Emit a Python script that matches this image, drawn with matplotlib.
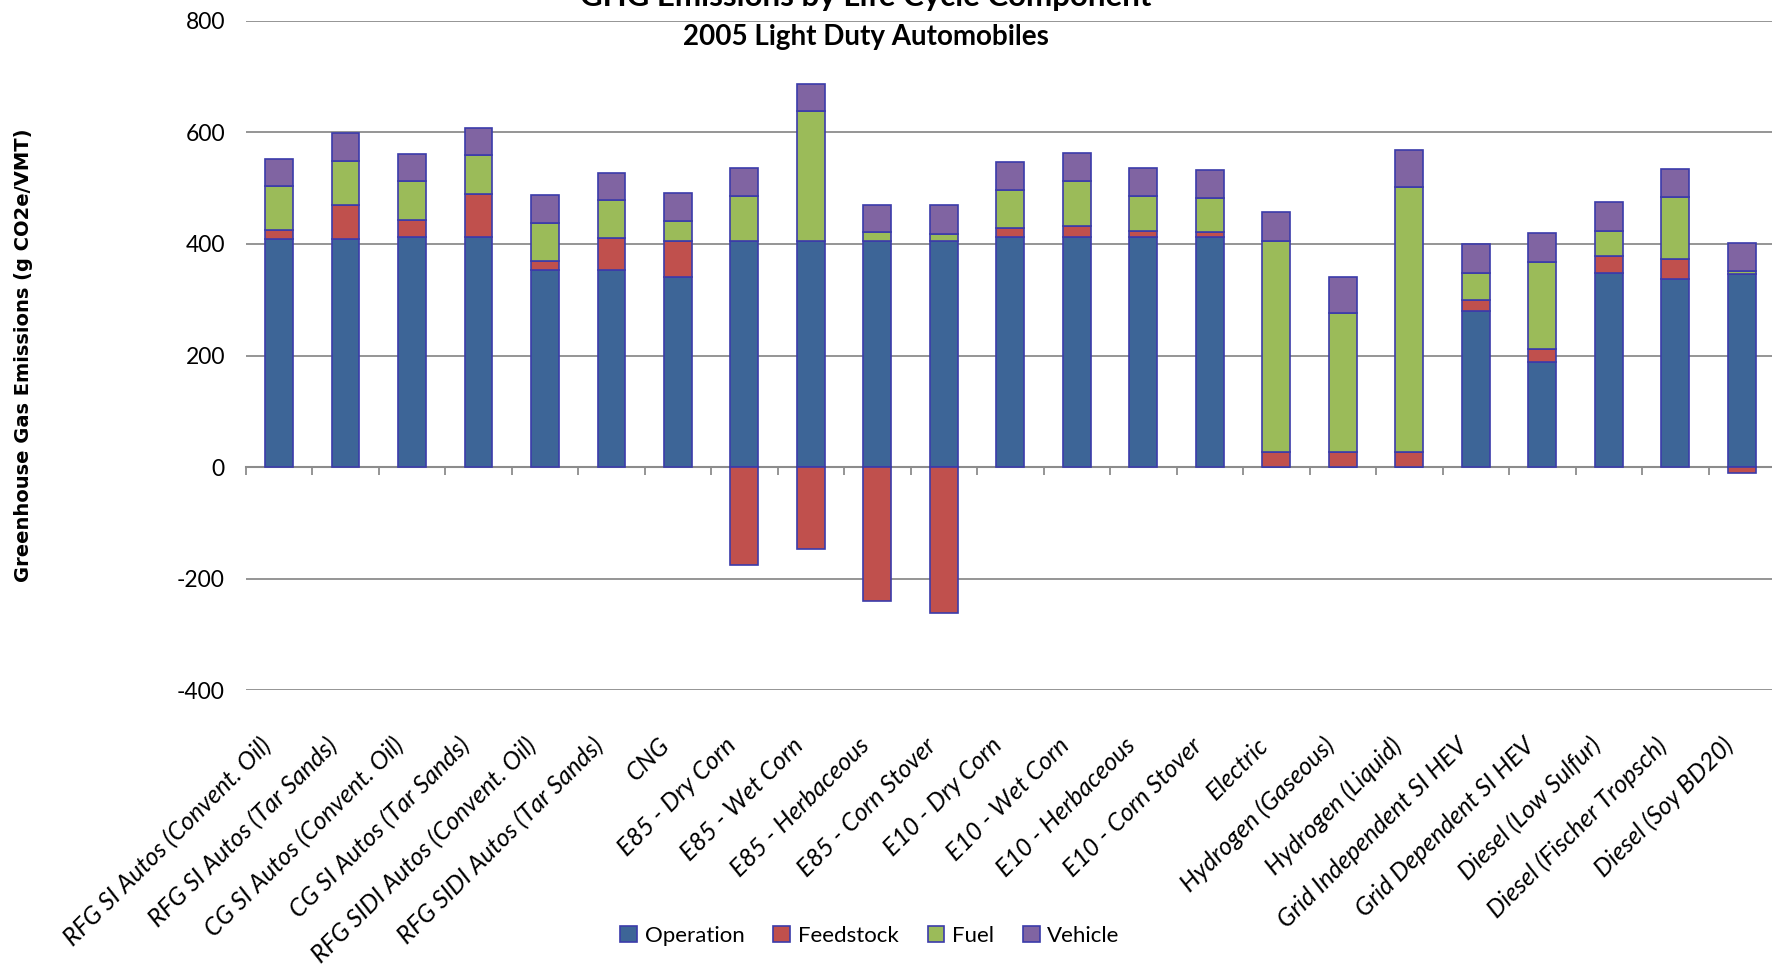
import numpy as np
import matplotlib.pyplot as plt
from matplotlib.transforms import ScaledTranslation

# GHG emissions per pathway, g CO2e / VMT
categories = [
    'RFG SI Autos (Convent. Oil)', 'RFG SI Autos (Tar Sands)',
    'CG SI Autos (Convent. Oil)', 'CG SI Autos (Tar Sands)',
    'RFG SIDI Autos (Convent. Oil)', 'RFG SIDI Autos (Tar Sands)',
    'CNG', 'E85 - Dry Corn', 'E85 - Wet Corn', 'E85 - Herbaceous',
    'E85 - Corn Stover', 'E10 - Dry Corn', 'E10 - Wet Corn',
    'E10 - Herbaceous', 'E10 - Corn Stover', 'Electric',
    'Hydrogen (Gaseous)', 'Hydrogen (Liquid)', 'Grid Independent SI HEV',
    'Grid Dependent SI HEV', 'Diesel (Low Sulfur)', 'Diesel (Fischer Tropsch)',
    'Diesel (Soy BD20)',
]
operation = [408, 408, 413, 413, 354, 354, 340, 405, 405, 405, 405, 413, 413,
             413, 413, 0, 0, 0, 280, 188, 348, 338, 346]
feedstock = [17, 62, 30, 76, 16, 57, 65, -176, -146, -239, -262, 16, 20,
             11, 8, 27, 27, 27, 20, 23, 30, 35, -10]
fuel = [78, 78, 70, 70, 68, 68, 36, 81, 233, 16, 12, 68, 80,
        62, 62, 378, 249, 475, 48, 156, 46, 112, 5]
vehicle = [50, 50, 49, 49, 49, 48, 51, 50, 49, 49, 53, 49, 50,
           50, 50, 52, 65, 66, 52, 52, 51, 50, 51]

series = [('Operation', operation, '#3D6597'),
          ('Feedstock', feedstock, '#C0504D'),
          ('Fuel', fuel, '#9BBB59'),
          ('Vehicle', vehicle, '#8064A2')]

plt.rcParams['font.family'] = ['Lato', 'DejaVu Sans']
plt.rcParams['axes.unicode_minus'] = False

fig = plt.figure(figsize=(17.72, 9.66), dpi=100)
ax = fig.add_axes([0.1387, 0.2852, 0.8630, 0.6934])

x = np.arange(len(categories))
pos_base = np.zeros(len(x))
neg_base = np.zeros(len(x))
for name, vals, color in series:
    v = np.array(vals, dtype=float)
    bottom = np.where(v >= 0, pos_base, neg_base)
    ax.bar(x, v, bottom=bottom, width=0.42, color=color,
           edgecolor='#3B3BAA', linewidth=1.2, label=name, zorder=3)
    pos_base = pos_base + np.clip(v, 0, None)
    neg_base = neg_base + np.clip(v, None, 0)

ax.set_xlim(-0.5, len(x) - 0.5)
ax.set_ylim(-400, 800)
ax.set_yticks(np.arange(-400, 801, 200))
ax.yaxis.grid(True, color='#8C8C8C', linewidth=1.3, zorder=0)
ax.set_axisbelow(True)
for s in ax.spines.values():
    s.set_visible(False)
ax.tick_params(axis='y', length=0, pad=15, labelsize=16.5)

ax.set_xticks(x)
ax.set_xticklabels(categories, rotation=45, ha='right', va='top',
                   rotation_mode='anchor', style='italic', fontsize=17.8)
ax.tick_params(axis='x', length=0, pad=31)
shift = ScaledTranslation(-0.20, 0, fig.dpi_scale_trans)
for lbl in ax.get_xticklabels():
    lbl.set_transform(lbl.get_transform() + shift)

# category axis line at zero with boundary tick marks
zero_axis = ax.secondary_xaxis(0, transform=ax.transData)
zero_axis.set_xticks(np.arange(-0.5, len(x), 1.0))
zero_axis.set_xticklabels([])
zero_axis.tick_params(axis='x', direction='out', length=6, width=1.3,
                      color='#8C8C8C')
zero_axis.spines['bottom'].set_color('#8C8C8C')
zero_axis.spines['bottom'].set_linewidth(1.5)

fig.text(0.4887, 0.9935, 'GHG Emissions by Life Cycle Component',
         ha='center', va='baseline', fontsize=22.5, fontweight='bold')
fig.text(0.4887, 0.9535, '2005 Light Duty Automobiles',
         ha='center', va='baseline', fontsize=20, fontweight='bold')

fig.text(0.0135, 0.6325, 'Greenhouse Gas Emissions (g CO2e/VMT)',
         rotation=90, ha='center', va='center', fontsize=14,
         fontweight='bold', family='DejaVu Sans')

fig.legend(loc='center', bbox_to_anchor=(0.491, 0.031), ncol=4,
           frameon=False, fontsize=16, handlelength=0.75, handleheight=0.75,
           handletextpad=0.35, columnspacing=1.3)

fig.savefig('out.png', dpi=100)
